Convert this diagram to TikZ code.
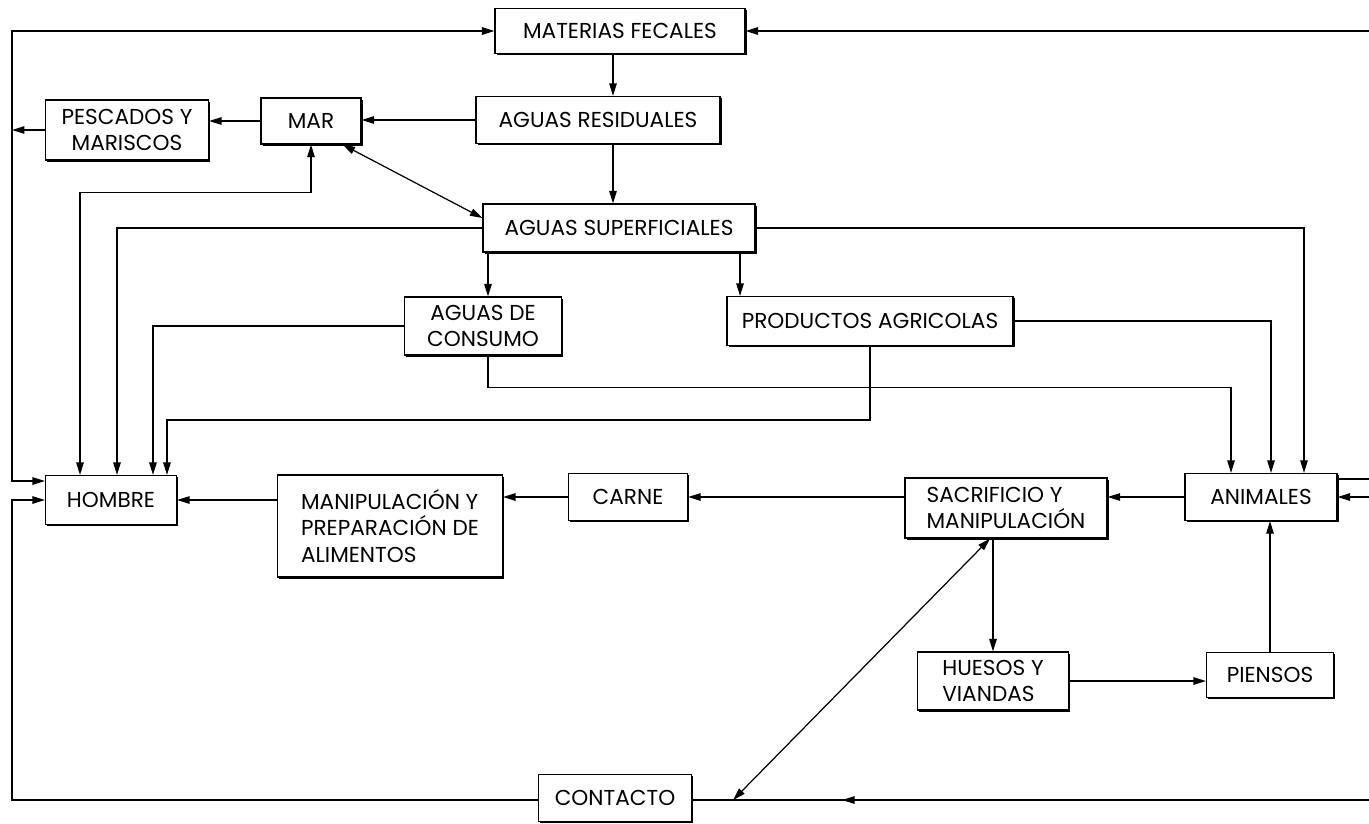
\documentclass[tikz,border=0pt]{standalone}
\usepackage{fontspec}
\setmainfont{Poppins}
\usetikzlibrary{arrows.meta,shadows,decorations.markings}

\begin{document}
\begin{tikzpicture}[
  x=0.02cm, y=-0.02cm,
  font=\fontsize{12.3}{15}\selectfont,
  box/.style={draw, fill=white, line width=0.7pt, inner sep=2pt, align=center,
    general shadow={fill=black, shadow xshift=1pt, shadow yshift=-1pt}},
  link/.style={line width=0.7pt, -{Triangle[length=2.5mm,width=1.5mm]}},
  link2/.style={line width=0.7pt, {Triangle[length=2.5mm,width=1.5mm]}-{Triangle[length=2.5mm,width=1.5mm]}},
  midarr/.style={line width=0.7pt, postaction={decorate},
    decoration={markings, mark=at position 0.785 with {\arrow{Triangle[length=2.5mm,width=1.5mm]}}}}
]
\clip (0,0) rectangle (1369,823);
\fill[white] (0,0) rectangle (1369,823);

% top of the chain
\node[box, minimum width=5cm, minimum height=0.9cm] (mf) at (620,31) {MATERIAS FECALES};
\node[box, minimum width=4.88cm, minimum height=0.94cm] (ar) at (598,120) {AGUAS RESIDUALES};
\node[box, minimum width=5.44cm, minimum height=0.96cm] (as) at (619,228) {AGUAS SUPERFICIALES};
\node[box, minimum width=2cm, minimum height=0.92cm] (mar) at (311,121) {MAR};
\node[box, minimum width=3.26cm, minimum height=1.2cm] (pes) at (127,130) {PESCADOS Y\\MARISCOS};
\node[box, minimum width=3.14cm, minimum height=1.16cm] (adc) at (483,326) {AGUAS DE\\CONSUMO};
\node[box, minimum width=5.72cm, minimum height=0.98cm] (pa) at (870,321) {PRODUCTOS AGRICOLAS};

% middle row
\node[box, minimum width=2.62cm, minimum height=0.98cm] (hom) at (111,500) {HOMBRE};
\node[box, minimum width=4.5cm, minimum height=2.04cm, align=left] (man) at (390,526) {MANIPULACIÓN Y\\PREPARACIÓN DE\\ALIMENTOS};
\node[box, minimum width=2.38cm, minimum height=0.94cm] (car) at (628,497) {CARNE};
\node[box, minimum width=4.04cm, minimum height=1.2cm, align=left] (sac) at (1006,508) {SACRIFICIO Y\\MANIPULACIÓN};
\node[box, minimum width=3.04cm, minimum height=0.94cm] (ani) at (1261,497) {ANIMALES};

% bottom
\node[box, minimum width=3.02cm, minimum height=1.16cm, align=left] (hue) at (993,681) {HUESOS Y\\VIANDAS};
\node[box, minimum width=2.54cm, minimum height=0.9cm] (pie) at (1270,675) {PIENSOS};
\node[box, minimum width=3.06cm, minimum height=0.94cm] (con) at (615,798) {CONTACTO};

\coordinate (lt) at (12,31);
\coordinate (lb) at (12,800);
\coordinate (rt) at (1390,31);
\coordinate (rb) at (1390,800);

% water
\draw[link] ([xshift=-1.4mm]mf.south) -- ([xshift=-1.4mm]mf.south |- ar.north);
\draw[link] ([xshift=3mm]ar.south) -- ([xshift=3mm]ar.south |- as.north);
\draw[link] (ar.west) -- (ar.west -| mar.east);
\draw[link] (mar.west) -- (mar.west -| pes.east);
\draw[link] (pes.west) -- (pes.west -| lt);
\draw[link2] ([yshift=2mm]as.west) -- ([xshift=-3.8mm]mar.south east);
\draw[link2] ([xshift=-6.2mm]hom.north) |- ([yshift=-9.6mm]mar.south) -- (mar.south);
\draw[link] (as.west) -| ([xshift=1.2mm]hom.north);
\draw[link] ([xshift=1mm]adc.north |- as.south) -- ([xshift=1mm]adc.north);
\draw[link] ([xshift=-2.6cm]pa.north |- as.south) -- ([xshift=-2.6cm]pa.north);
\draw[link] (as.east) -| ([xshift=8.6mm]ani.north);
\draw[link] (adc.west) -| ([xshift=8.4mm]hom.north);
\draw[link] ([xshift=1mm]adc.south) -- ++(0,-6.4mm) -| ([xshift=-6mm]ani.north);
\draw[link] (pa.south) -- ++(0,-14.8mm) -| ([xshift=11.2mm]hom.north);
\draw[link] (pa.east) -| ([xshift=2mm]ani.north);

% food chain
\draw[link] (man.west |- hom.east) -- (hom.east);
\draw[link] (car.west) -- (car.west -| man.east);
\draw[link] (sac.west |- car.east) -- (car.east);
\draw[link] (ani.west) -- (ani.west -| sac.east);
\draw[link] (hue.north |- sac.south) -- (hue.north);
\draw[link2] ([xshift=-3.2mm]sac.south) -- ([xshift=8.2mm]con.east |- rb);
\draw[link] (hue.east) -- (hue.east -| pie.west);
\draw[link] (pie.north) -- (pie.north |- ani.south);

% outer loops
\draw[link2] (mf.west) -- (lt) |- ([yshift=3.8mm]hom.west);
\draw[link] (con.west |- lb) -- (lb) |- (hom.west);
\draw[link] ([yshift=3.6mm]ani.east) -| (rt) -- (mf.east);
\draw[link] (rb) |- (ani.east);
\draw[midarr] (rb) -- (con.east |- rb);
\end{tikzpicture}
\end{document}
